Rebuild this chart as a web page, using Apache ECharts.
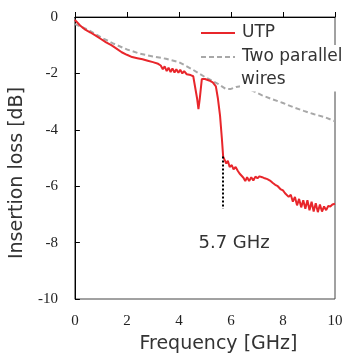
<!DOCTYPE html>
<html>
<head>
<meta charset="utf-8">
<script src="https://cdn.jsdelivr.net/npm/echarts@6/dist/echarts.min.js"></script>
<style>
  html, body { margin: 0; padding: 0; background: #fff; }
  #chart { width: 363px; height: 359px; }
</style>
</head>
<body>
<div id="chart"></div>
<script>
// UTP 曲线（频率 GHz / 插入损耗 dB）
const utpFreq = [0, 0.2, 0.4, 0.6, 0.8, 1.0, 1.2, 1.4, 1.6, 1.8, 2.0, 2.2, 2.4, 2.6, 2.8, 3.0, 3.2,
  3.3, 3.38, 3.45, 3.53, 3.6, 3.68, 3.75, 3.83, 3.9, 3.98, 4.05, 4.13, 4.2, 4.3, 4.45, 4.55,
  4.62, 4.7, 4.75, 4.8, 4.88, 5.0, 5.16, 5.3, 5.42, 5.5, 5.58, 5.65, 5.7,
  5.75, 5.82, 5.88, 5.95, 6.03, 6.1, 6.18, 6.26, 6.33, 6.4, 6.48, 6.55, 6.62, 6.7, 6.78, 6.86, 6.94,
  7.02, 7.1, 7.2, 7.3, 7.4, 7.5, 7.6, 7.7, 7.8, 7.9, 8.0, 8.08, 8.15, 8.22, 8.3, 8.38, 8.46, 8.54,
  8.62, 8.7, 8.78, 8.86, 8.94, 9.02, 9.1, 9.18, 9.26, 9.34, 9.42, 9.5, 9.58, 9.66, 9.74, 9.82, 9.9, 10];
const utpLoss = [-0.1, -0.3, -0.45, -0.55, -0.66, -0.78, -0.9, -1.0, -1.12, -1.25, -1.34, -1.42, -1.46, -1.5, -1.55, -1.6, -1.66,
  -1.72, -1.85, -1.75, -1.92, -1.8, -1.95, -1.82, -1.97, -1.85, -1.98, -1.87, -2.0, -1.92, -2.03, -2.06, -2.1,
  -2.12, -2.9, -3.27, -2.9, -2.2, -2.2, -2.25, -2.32, -2.46, -2.9, -3.5, -4.3, -4.95,
  -5.0, -5.2, -5.1, -5.32, -5.25, -5.4, -5.32, -5.45, -5.55, -5.5, -5.7, -5.82, -5.68, -5.82, -5.68, -5.8, -5.66,
  -5.72, -5.65, -5.68, -5.72, -5.75, -5.8, -5.88, -5.95, -6.0, -6.1, -6.15, -6.25, -6.2, -6.38, -6.3, -6.55, -6.38, -6.68,
  -6.45, -6.75, -6.5, -6.8, -6.5, -6.85, -6.55, -6.9, -6.6, -6.92, -6.65, -6.9, -6.72, -6.85, -6.7, -6.72, -6.65, -6.62];

// 平行双线
const wireFreq = [0, 0.5, 1.0, 1.5, 2.0, 2.5, 3.0, 3.5, 4.0, 4.5, 5.0, 5.5, 5.8, 6.0, 6.2, 6.4,
  6.8, 7.2, 7.6, 8.0, 8.4, 8.8, 9.2, 9.6, 10];
const wireLoss = [-0.25, -0.45, -0.72, -0.95, -1.15, -1.3, -1.4, -1.48, -1.6, -1.85, -2.13, -2.37, -2.55, -2.55, -2.48, -2.45,
  -2.6, -2.78, -2.92, -3.05, -3.2, -3.33, -3.45, -3.55, -3.7];

const xTicks = [0, 2, 4, 6, 8, 10];
const yTicks = [-10, -8, -6, -4, -2, 0];
const cutoffFreq = 5.7;
const cutoffRange = [-4.95, -6.8];

const sans = 'DejaVu Sans';
const serif = 'Liberation Serif';

const zip = (xs, ys) => xs.map((x, i) => [x, ys[i]]);

const chart = echarts.init(document.getElementById('chart'), null, { renderer: 'canvas' });

const option = {
  animation: false,
  grid: {
    left: 72,
    right: 28,
    top: 17,
    bottom: 58,
    show: true,
    borderColor: '#444',
    borderWidth: 1
  },
  legend: {
    orient: 'vertical',
    left: 200,
    top: 21,
    padding: 0,
    itemGap: 0,
    itemWidth: 34,
    itemHeight: 14,
    selectedMode: false,
    itemStyle: { opacity: 0 },
    textStyle: {
      fontFamily: sans,
      fontSize: 17,
      lineHeight: 20,
      color: '#333',
      backgroundColor: '#fff',
      padding: [2, 40, 2, 2]
    },
    data: ['UTP', 'Two parallel']
  },
  xAxis: {
    type: 'value',
    min: xTicks[0],
    max: xTicks[xTicks.length - 1],
    interval: 2,
    name: 'Frequency [GHz]',
    nameLocation: 'middle',
    nameGap: 36,
    nameTextStyle: { fontFamily: sans, fontSize: 19, color: '#333', padding: [0, 0, 0, 27] },
    axisLine: { lineStyle: { color: '#000', width: 1 } },
    axisTick: { inside: true, length: 5, lineStyle: { color: '#000' } },
    axisLabel: { fontFamily: serif, fontSize: 15, color: '#222', margin: 15 },
    splitLine: { show: false }
  },
  yAxis: {
    type: 'value',
    min: yTicks[0],
    max: yTicks[yTicks.length - 1],
    interval: 2,
    name: 'Insertion loss [dB]',
    nameLocation: 'middle',
    nameGap: 43,
    nameTextStyle: { fontFamily: sans, fontSize: 19, color: '#333', padding: [0, 30, 0, 0] },
    axisLine: { show: true, lineStyle: { color: '#000', width: 1 } },
    axisTick: { show: true, inside: true, length: 5, lineStyle: { color: '#000' } },
    axisLabel: { fontFamily: serif, fontSize: 15, color: '#222', margin: 17 },
    splitLine: { show: false }
  },
  graphic: [
    {
      type: 'text',
      z: 10,
      x: 240,
      y: 80,
      style: {
        text: 'wires',
        font: '17px "DejaVu Sans"',
        fill: '#333',
        verticalAlign: 'middle',
        backgroundColor: '#fff',
        padding: [3, 80, 3, 1]
      }
    }
  ],
  series: [
    {
      name: 'Two parallel',
      type: 'line',
      data: zip(wireFreq, wireLoss),
      symbol: 'none',
      lineStyle: { color: '#a8a8a8', width: 2, type: [5, 3] },
      itemStyle: { color: '#a8a8a8' },
      z: 2
    },
    {
      name: 'UTP',
      type: 'line',
      data: zip(utpFreq, utpLoss),
      symbol: 'none',
      lineStyle: { color: '#e8262b', width: 2 },
      itemStyle: { color: '#e8262b' },
      z: 3,
      markLine: {
        silent: true,
        symbol: ['none', 'none'],
        lineStyle: { color: '#000', width: 2, type: [2, 2] },
        label: {
          show: true,
          position: 'end',
          distance: 26,
          formatter: cutoffFreq + ' GHz',
          fontFamily: sans,
          fontSize: 18,
          color: '#333',
          padding: [0, 0, 0, 22]
        },
        data: [[{ coord: [cutoffFreq, cutoffRange[0]] }, { coord: [cutoffFreq, cutoffRange[1]] }]]
      }
    }
  ]
};

chart.setOption(option);
</script>
</body>
</html>
